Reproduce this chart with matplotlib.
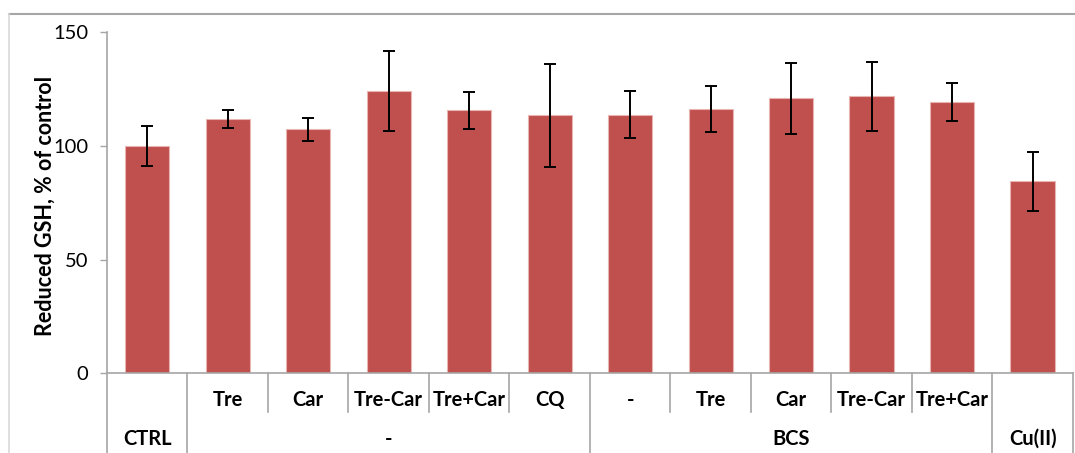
import matplotlib
matplotlib.use("Agg")
import matplotlib.pyplot as plt
from matplotlib.lines import Line2D
import numpy as np

plt.rcParams["font.family"] = ["Lato", "DejaVu Sans"]

# treatment per bar (first label row) and the group it belongs to (second row)
treatments = ["", "Tre", "Car", "Tre-Car", "Tre+Car", "CQ",
              "-", "Tre", "Car", "Tre-Car", "Tre+Car", ""]
groups = ["CTRL", "-", "BCS", "Cu(II)"]
group_sizes = [1, 5, 5, 1]

gsh = [100, 111.7, 107.3, 124.2, 115.7, 113.5,
       113.8, 116.4, 121.0, 121.8, 119.3, 84.5]
gsh_err = [9.0, 4.0, 5.2, 17.5, 8.1, 22.6,
           10.2, 10.1, 15.7, 15.2, 8.3, 12.9]

BAR_COLOR = "#C0504D"
LINE_GRAY = "#A6A6A6"

fig = plt.figure(figsize=(10.75, 4.53), dpi=100)
ax = fig.add_axes([0.0995, 0.1757, 0.8985, 0.753])

x = np.arange(len(gsh))
ax.bar(x, gsh, width=0.55, color=BAR_COLOR, edgecolor="#E8B5B3", linewidth=0.8,
       zorder=2)
ax.errorbar(x, gsh, yerr=gsh_err, fmt="none", ecolor="black", elinewidth=1.4,
            capsize=4, capthick=1.4, zorder=3)

ax.set_xlim(-0.5, len(gsh) - 0.5)
ax.set_ylim(0, 150)
ax.set_yticks([0, 50, 100, 150])
ax.tick_params(axis="y", direction="out", length=5, width=1, color=LINE_GRAY,
               labelsize=14.5, pad=8.6)
ax.set_xticks([])
for side in ("top", "right"):
    ax.spines[side].set_visible(False)
for side in ("left", "bottom"):
    ax.spines[side].set_color(LINE_GRAY)
    ax.spines[side].set_linewidth(1.2)

ax.set_ylabel("Reduced GSH, % of control", fontsize=15.5, fontweight="bold")
ax.yaxis.set_label_coords(-0.053, 0.49)

# two-row category axis drawn below the plot
trans = ax.get_xaxis_transform()
row1_y, row2_y = -0.078, -0.192
short_bottom, full_bottom = -0.113, -0.24

bounds = np.cumsum([0] + group_sizes) - 0.5
for xs in np.arange(-0.5, len(gsh)):
    bottom = full_bottom if np.any(np.isclose(bounds, xs)) else short_bottom
    ax.add_line(Line2D([xs, xs], [0, bottom], transform=trans, color=LINE_GRAY,
                       lw=1.2, clip_on=False))

for xi, name in zip(x, treatments):
    if name:
        ax.text(xi, row1_y, name, transform=trans, ha="center", va="center",
                fontsize=14.5, fontweight="bold")

for left, right, name in zip(bounds[:-1], bounds[1:], groups):
    ax.text((left + right) / 2, row2_y, name, transform=trans, ha="center",
            va="center", fontsize=14.5, fontweight="bold")

# outer chart frame
fig.add_artist(Line2D([9 / 1075, 1], [1 - 14 / 453] * 2, transform=fig.transFigure,
                      color=LINE_GRAY, lw=1.5))
fig.add_artist(Line2D([9 / 1075] * 2, [0, 1 - 14 / 453], transform=fig.transFigure,
                      color="#D9D9D9", lw=1.2))

fig.savefig("out.png", dpi=100)
